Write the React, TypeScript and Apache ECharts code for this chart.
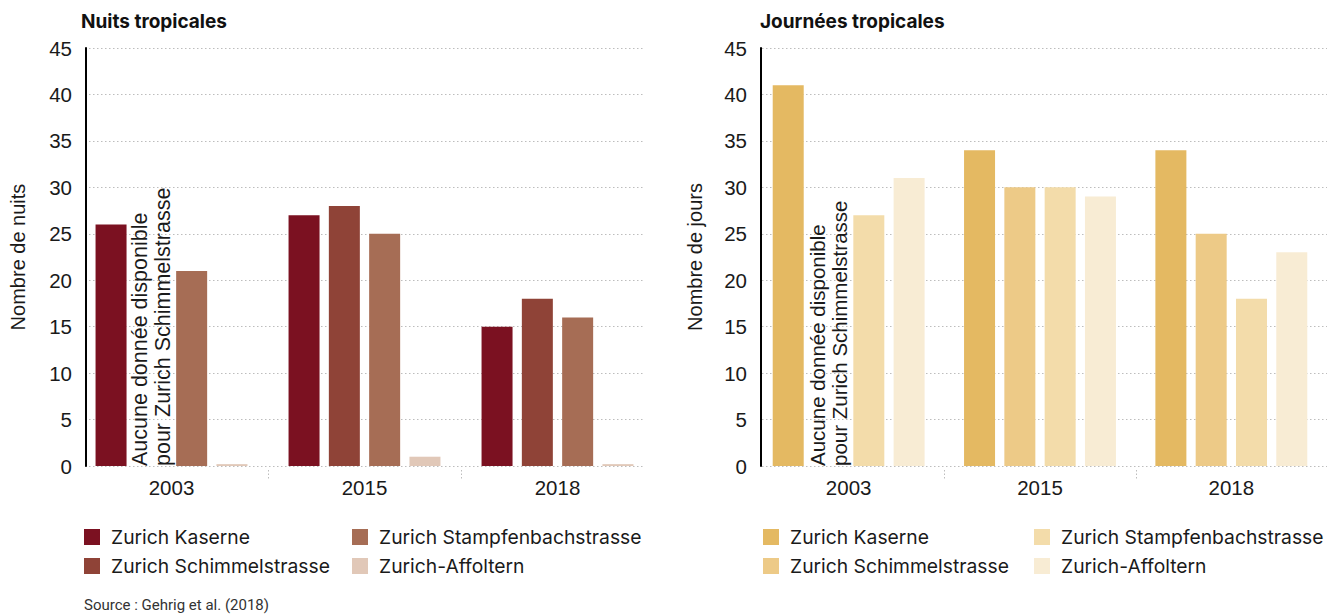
import React, { useEffect, useRef } from "react";
import * as echarts from "echarts";

// ---- data ----
const years = ["2003", "2015", "2018"];
const stations = [
  "Zurich Kaserne",
  "Zurich Schimmelstrasse",
  "Zurich Stampfenbachstrasse",
  "Zurich-Affoltern",
];

// Tropical nights (number of nights)
const nightsKaserne = [26, 27, 15];
const nightsSchimmel: (number | null)[] = [null, 28, 18];
const nightsStampfenbach = [21, 25, 16];
const nightsAffoltern = [0.2, 1, 0.2];

// Tropical days (number of days)
const daysKaserne = [41, 34, 34];
const daysSchimmel: (number | null)[] = [null, 30, 25];
const daysStampfenbach = [27, 30, 18];
const daysAffoltern = [31, 29, 23];

const yMin = 0;
const yMax = 45;
const yStep = 5;

const nightsColors = ["#7b1121", "#8f4337", "#a66d55", "#e1c8b8"];
const daysColors = ["#e4b962", "#edca87", "#f3dcaa", "#f8ecd4"];

const noDataNote = "Aucune donnée disponible\npour Zurich Schimmelstrasse";
const sourceText = "Source : Gehrig et al. (2018)";

const AXIS_FONT = "Liberation Sans, Arial, sans-serif";
const UI_FONT = "Inter, Lato, sans-serif";

type ChartProps = {
  title: string;
  yName: string;
  values: (number | null)[][];
  colors: string[];
  gridLeft: number;
  axisOffset: number;
  splitLeft: number;
  splitWidth: number | null;
  legendLeft: [number, number];
  titleLeft: number;
  noteSize: number;
  nameGap: number;
  showSource: boolean;
  width: number;
};

function TropChart(p: ChartProps) {
  const ref = useRef<HTMLDivElement>(null);
  useEffect(() => {
    if (!ref.current) return;
    const chart = echarts.init(ref.current, null, { renderer: "svg" });
    const series = stations.map((name, si) => ({
      type: "bar",
      name,
      xAxisIndex: 0,
      yAxisIndex: 0,
      barWidth: 31,
      barGap: "30%",
      itemStyle: { color: p.colors[si] },
      data: p.values[si].map((v) =>
        v === null
          ? {
              value: 0,
              label: {
                show: true,
                formatter: noDataNote,
                position: "insideBottom",
                rotate: 90,
                align: "left",
                verticalAlign: "middle",
                distance: 0,
                fontFamily: AXIS_FONT,
                fontSize: p.noteSize,
                lineHeight: p.noteSize + 1,
                color: "#1a1a1a",
              },
            }
          : v
      ),
    }));
    const titles: any[] = [
      {
        text: p.title,
        left: p.titleLeft,
        top: 12,
        padding: 0,
        textStyle: {
          fontFamily: UI_FONT,
          fontWeight: "bold",
          fontSize: 19,
          color: "#111",
        },
      },
    ];
    if (p.showSource) {
      titles.push({
        text: sourceText,
        left: 84,
        top: 597,
        padding: 0,
        textStyle: {
          fontFamily: "Roboto, sans-serif",
          fontWeight: "normal",
          fontSize: 15,
          lineHeight: 15,
          color: "#333",
        },
      });
    }
    const legendBase = {
      orient: "vertical",
      top: 527,
      icon: "rect",
      itemWidth: 16,
      itemHeight: 16,
      itemGap: 9,
      padding: 0,
      selectedMode: false,
      textStyle: {
        fontFamily: UI_FONT,
        fontSize: 19.3,
        lineHeight: 20,
        color: "#1a1a1a",
        padding: [0, 0, 0, 6],
      },
    };
    const splitGrid: any = { left: p.splitLeft, top: 48, height: 418 };
    if (p.splitWidth === null) splitGrid.right = 0;
    else splitGrid.width = p.splitWidth;
    chart.setOption({
      animation: false,
      title: titles,
      grid: [
        { left: p.gridLeft, top: 48, height: 418, width: 581 },
        splitGrid,
      ],
      legend: [
        {
          ...legendBase,
          left: p.legendLeft[0],
          data: [stations[0], stations[1]],
        },
        {
          ...legendBase,
          left: p.legendLeft[1],
          data: [stations[2], stations[3]],
        },
      ],
      xAxis: [
        {
          type: "category",
          gridIndex: 0,
          data: years,
          axisLine: { show: false },
          axisTick: { show: false },
          axisLabel: {
            fontFamily: AXIS_FONT,
            fontSize: 20.5,
            color: "#1a1a1a",
            margin: 11,
          },
        },
        { type: "value", gridIndex: 1, show: false, min: 0, max: 1 },
      ],
      yAxis: [
        {
          type: "value",
          gridIndex: 0,
          min: yMin,
          max: yMax,
          interval: yStep,
          offset: p.axisOffset,
          name: p.yName,
          nameLocation: "middle",
          nameGap: p.nameGap,
          nameTextStyle: {
            fontFamily: AXIS_FONT,
            fontSize: 20,
            color: "#1a1a1a",
          },
          axisLine: { show: true, lineStyle: { color: "#000", width: 2 } },
          axisTick: { show: false },
          splitLine: { show: false },
          axisLabel: {
            fontFamily: AXIS_FONT,
            fontSize: 20.5,
            color: "#1a1a1a",
            margin: 14,
          },
        },
        {
          type: "value",
          gridIndex: 1,
          min: yMin,
          max: yMax,
          interval: yStep,
          axisLine: { show: false },
          axisTick: { show: false },
          axisLabel: { show: false },
          splitLine: {
            show: true,
            lineStyle: { color: "#bdbdbd", width: 1, type: [1.5, 2.5] },
          },
        },
      ],
      series,
    });
    const centers = years.map(
      (y) => chart.convertToPixel({ xAxisIndex: 0 }, y) as number
    );
    const y0 = chart.convertToPixel({ yAxisIndex: 0 }, 0) as number;
    const seps: any[] = [];
    for (let i = 0; i < centers.length - 1; i++) {
      const x = Math.round((centers[i] + centers[i + 1]) / 2) + 0.5;
      seps.push({
        type: "line",
        shape: { x1: x, y1: y0 + 4, x2: x, y2: y0 + 13 },
        style: { stroke: "#bdbdbd", lineWidth: 1, lineDash: [1.5, 2] },
      });
    }
    chart.setOption({ graphic: seps });
    return () => chart.dispose();
  }, []);
  return <div ref={ref} style={{ width: p.width, height: 614 }} />;
}

export default function App() {
  return (
    <div
      style={{
        position: "fixed",
        left: 0,
        top: 0,
        width: 1327,
        height: 614,
        background: "#fff",
        display: "flex",
        overflow: "hidden",
      }}
    >
      <TropChart
        title="Nuits tropicales"
        yName="Nombre de nuits"
        values={[nightsKaserne, nightsSchimmel, nightsStampfenbach, nightsAffoltern]}
        colors={nightsColors}
        gridLeft={73}
        axisOffset={-11}
        splitLeft={85}
        splitWidth={558}
        legendLeft={[84, 352]}
        titleLeft={81}
        noteSize={21.5}
        nameGap={58}
        showSource={true}
        width={663}
      />
      <TropChart
        title="Journées tropicales"
        yName="Nombre de jours"
        values={[daysKaserne, daysSchimmel, daysStampfenbach, daysAffoltern]}
        colors={daysColors}
        gridLeft={90}
        axisOffset={-8}
        splitLeft={99}
        splitWidth={null}
        legendLeft={[100, 371]}
        titleLeft={97}
        noteSize={20.5}
        nameGap={56}
        showSource={false}
        width={664}
      />
    </div>
  );
}
